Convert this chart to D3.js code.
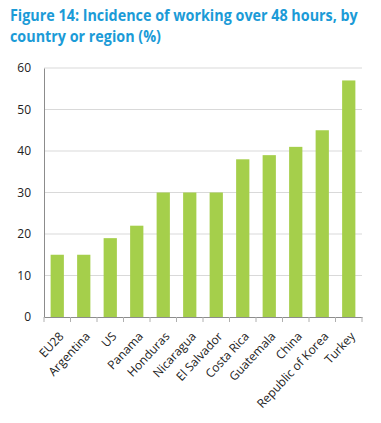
<!DOCTYPE html>
<html lang="en">
<head>
<meta charset="UTF-8">
<title>Figure 14</title>
<script src="https://d3js.org/d3.v7.min.js"></script>
<style>
  body { margin: 0; background: #fff; }
  svg { display: block; }
  .title { font-family: "Open Sans", sans-serif; font-weight: bold; font-size: 16px; fill: #1b9bd7; }
  .axis text { font-family: "Open Sans", sans-serif; font-size: 11.5px; fill: #222; }
</style>
</head>
<body>
<svg width="381" height="423"></svg>
<script>
const countries = ["EU28", "Argentina", "US", "Panama", "Honduras", "Nicaragua", "El Salvador",
  "Costa Rica", "Guatemala", "China", "Republic of Korea", "Turkey"];
const values = [15, 15, 19, 22, 30, 30, 30, 38, 39, 41, 45, 57];
const yTicks = [0, 10, 20, 30, 40, 50, 60];
const titleLines = ["Figure 14: Incidence of working over 48 hours, by", "country or region (%)"];

const svg = d3.select("svg");
const margin = { top: 68, right: 19, bottom: 106, left: 44 };
const width = 381 - margin.left - margin.right;
const height = 423 - margin.top - margin.bottom;

// title, squeezed horizontally to match the narrow face of the original
const first = svg.append("text").attr("class", "title").text(titleLines[0]);
const squeeze = 348 / first.node().getComputedTextLength();
first.remove();
svg.selectAll(".title").data(titleLines).join("text").attr("class", "title")
  .attr("transform", (d, i) => `translate(10,${21 + i * 21}) scale(${squeeze},1)`)
  .text(d => d);

const g = svg.append("g").attr("transform", `translate(${margin.left},${margin.top})`);

const x = d3.scaleBand().domain(countries).range([0, width]).paddingInner(0.5).paddingOuter(0.25);
const y = d3.scaleLinear().domain([0, 60]).range([height, 0]);

// gridlines
g.append("g").selectAll("line").data(yTicks.slice(1)).join("line")
  .attr("x1", 0).attr("x2", width)
  .attr("y1", d => y(d)).attr("y2", d => y(d))
  .attr("stroke", "#d9d9d9").attr("stroke-width", 1);

// bars
g.append("g").selectAll("rect").data(countries).join("rect")
  .attr("x", d => x(d))
  .attr("y", (d, i) => y(values[i]))
  .attr("width", x.bandwidth())
  .attr("height", (d, i) => height - y(values[i]))
  .attr("fill", "#a5cf4b");

// y axis
const yAxis = g.append("g").attr("class", "axis")
  .call(d3.axisLeft(y).tickValues(yTicks).tickSize(0).tickPadding(13));
yAxis.select(".domain").attr("stroke", "#8c8c8c");
yAxis.selectAll("text").style("font-size", "12px");

// x axis
const xAxis = g.append("g").attr("class", "axis").attr("transform", `translate(0,${height})`)
  .call(d3.axisBottom(x).tickSize(0));
xAxis.select(".domain").attr("stroke", "#8c8c8c");
xAxis.selectAll("text")
  .style("font-size", "12px")
  .attr("text-anchor", "end")
  .attr("x", 0).attr("y", 0)
  .attr("dy", "0.35em")
  .attr("transform", "translate(4,17) rotate(-47)");

// tick marks between categories
const seps = d3.range(countries.length + 1).map(i => i * width / countries.length);
xAxis.selectAll(".sep").data(seps).join("line").attr("class", "sep")
  .attr("x1", d => d).attr("x2", d => d).attr("y1", 0).attr("y2", 5)
  .attr("stroke", "#b0b0b0");
</script>
</body>
</html>
